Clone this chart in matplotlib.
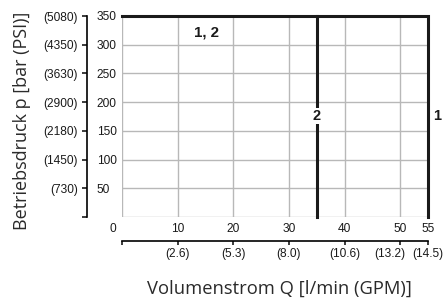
import matplotlib
matplotlib.use("Agg")
import matplotlib.pyplot as plt
from matplotlib.ticker import FixedLocator, FixedFormatter
from matplotlib.transforms import ScaledTranslation

# Data
flow_ticks = [0, 10, 20, 30, 40, 50, 55]
flow_labels = ["0", "10", "20", "30", "40", "50", "55"]
gpm_labels = ["", "(2.6)", "(5.3)", "(8.0)", "(10.6)", "(13.2)", "(14.5)"]
press_ticks = [0, 50, 100, 150, 200, 250, 300, 350]
bar_labels = ["", "50", "100", "150", "200", "250", "300", "350"]
psi_labels = ["", "(730)", "(1450)", "(2180)", "(2900)", "(3630)", "(4350)", "(5080)"]

curve1_q = [0, 55, 55]
curve1_p = [350, 350, 0]
curve2_q = [35, 35]
curve2_p = [0, 350]

W, H = 444, 305
fig = plt.figure(figsize=(W / 100, H / 100), dpi=100)
num_font = "Liberation Sans"
title_font = "Open Sans"
fs = 8.6

L, R, T, B = 122, 428, 16, 217
ax = fig.add_axes([L / W, 1 - B / H, (R - L) / W, (B - T) / H])
ax.set_xlim(0, 55)
ax.set_ylim(0, 350)
for s in ax.spines.values():
    s.set_visible(False)
ax.set_xticks([])
ax.set_yticks([])
grid_c = "#b8b8b8"
for x in [0, 10, 20, 30, 40, 50]:
    ax.axvline(x, color=grid_c, lw=1.0, zorder=1)
for y in [0, 50, 100, 150, 200, 250, 300]:
    ax.axhline(y, color=grid_c, lw=1.0, zorder=1)

ax.plot(curve1_q, curve1_p, color="#1a1a1a", lw=2.2, zorder=3, clip_on=False,
        solid_joinstyle="miter")
ax.plot(curve2_q, curve2_p, color="#1a1a1a", lw=2.2, zorder=3, clip_on=False)

bold = dict(fontfamily=num_font, fontweight="bold", color="#1a1a1a")
ax.text(35, 176, "2", ha="center", va="center", zorder=4, fontsize=10.5,
        bbox=dict(facecolor="white", edgecolor="none", pad=0.8), **bold)
ax.text(56.0, 176, "1", ha="left", va="center", zorder=4, fontsize=10.5, **bold)
ax.text(15.2, 321, "1, 2", ha="center", va="center", zorder=4, fontsize=10.8,
        **bold)

# Left pressure axis (separate spine)
xs = 87
ay = fig.add_axes([xs / W, 1 - B / H, 0.0001, (B - T) / H])
ay.set_ylim(0, 350)
ay.patch.set_visible(False)
for k in ["top", "bottom", "right"]:
    ay.spines[k].set_visible(False)
ay.spines["left"].set_linewidth(1.2)
ay.set_xticks([])
ay.yaxis.set_major_locator(FixedLocator(press_ticks))
ay.yaxis.set_major_formatter(FixedFormatter(psi_labels))
ay.tick_params(axis="y", direction="out", length=3.5, width=1.2, pad=3,
               labelsize=fs, colors="#1a1a1a")
for t in ay.get_yticklabels():
    t.set_fontfamily(num_font)
ay2 = ay.twinx()
ay2.set_ylim(0, 350)
for s in ay2.spines.values():
    s.set_visible(False)
ay2.yaxis.set_major_locator(FixedLocator(press_ticks))
ay2.yaxis.set_major_formatter(FixedFormatter(bar_labels))
ay2.tick_params(axis="y", length=0, pad=7, labelsize=fs, colors="#1a1a1a")
for t in ay2.get_yticklabels():
    t.set_fontfamily(num_font)

# Bottom flow axis (separate spine)
ys = 241
axx = fig.add_axes([L / W, 1 - ys / H, (R - L) / W, 0.0001])
axx.set_xlim(0, 55)
axx.patch.set_visible(False)
for k in ["top", "left", "right"]:
    axx.spines[k].set_visible(False)
axx.spines["bottom"].set_linewidth(1.2)
axx.set_yticks([])
axx.xaxis.set_major_locator(FixedLocator(flow_ticks))
axx.xaxis.set_major_formatter(FixedFormatter(gpm_labels))
axx.tick_params(axis="x", direction="out", length=3, width=1.2, pad=2,
                labelsize=fs, colors="#1a1a1a")
for t in axx.get_xticklabels():
    t.set_fontfamily(num_font)
axx2 = axx.twiny()
axx2.set_xlim(0, 55)
for s in axx2.spines.values():
    s.set_visible(False)
axx2.xaxis.set_major_locator(FixedLocator(flow_ticks))
axx2.xaxis.set_major_formatter(FixedFormatter(flow_labels))
axx2.tick_params(axis="x", length=0, pad=4, labelsize=fs, colors="#1a1a1a")
for t in axx2.get_xticklabels():
    t.set_fontfamily(num_font)

# small horizontal nudges of crowded labels
fig.canvas.draw()
gt = axx.xaxis.get_major_ticks()
gt[5].label1.set_transform(gt[5].label1.get_transform()
                           + ScaledTranslation(-10 / 100, 0, fig.dpi_scale_trans))
ft = axx2.xaxis.get_major_ticks()
ft[0].label2.set_transform(ft[0].label2.get_transform()
                           + ScaledTranslation(-9 / 100, 0, fig.dpi_scale_trans))

fig.text(279 / W, 1 - 289 / H, "Volumenstrom Q [l/min (GPM)]", ha="center",
         va="center", fontfamily=title_font, fontsize=13.2, color="#2a2a2a")
fig.text(22 / W, 1 - 121 / H, "Betriebsdruck p [bar (PSI)]", ha="center",
         va="center", rotation=90, fontfamily=title_font, fontsize=13,
         color="#2a2a2a")

fig.savefig("out.png", dpi=100)
